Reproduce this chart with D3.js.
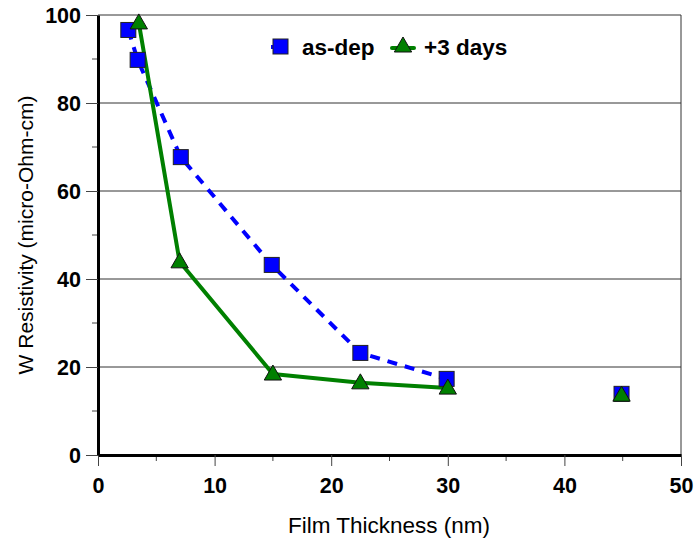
<!DOCTYPE html>
<html>
<head>
<meta charset="utf-8">
<script src="https://cdn.jsdelivr.net/npm/d3@7"></script>
<style>
  body { margin: 0; background: #fff; }
  text { font-family: Arial, "Liberation Sans", sans-serif; }
</style>
</head>
<body>
<div id="chart"></div>
<script>
// chart data
const thickness = [2.6, 3.4, 7.1, 14.9, 22.5, 29.9, 44.9];
const asDep = [96.6, 89.8, 67.7, 43.2, 23.2, 17.3, 13.9];
const plus3Thick = [3.5, 7.0, 15.0, 22.5, 30.0, 44.9];
const plus3Days = [98.2, 43.9, 18.4, 16.4, 15.2, 13.6];
const lineEnd = 30; // lines stop at 30 nm, 45 nm point stands alone
const xTicks = [0, 10, 20, 30, 40, 50];
const yTicks = [0, 20, 40, 60, 80, 100];

const width = 696;
const height = 538;
const margin = { top: 15, right: 15, bottom: 83, left: 98 };

const svg = d3.select("#chart")
  .append("svg")
  .attr("width", width)
  .attr("height", height);

const x = d3.scaleLinear().domain([0, 50]).range([margin.left, width - margin.right]);
const y = d3.scaleLinear().domain([0, 100]).range([height - margin.bottom, margin.top]);

// gridlines
svg.append("g")
  .selectAll("line")
  .data(yTicks.filter(d => d > 0))
  .enter().append("line")
  .attr("x1", x(0)).attr("x2", x(50))
  .attr("y1", d => y(d)).attr("y2", d => y(d))
  .attr("stroke", "#333")
  .attr("stroke-width", 1);

// right border
svg.append("line")
  .attr("x1", x(50)).attr("x2", x(50))
  .attr("y1", y(0)).attr("y2", y(100))
  .attr("stroke", "#333").attr("stroke-width", 1);

// minor ticks
svg.append("g").selectAll("line")
  .data(d3.range(5, 50, 10))
  .enter().append("line")
  .attr("x1", d => x(d)).attr("x2", d => x(d))
  .attr("y1", y(0)).attr("y2", y(0) + 6)
  .attr("stroke", "#444").attr("stroke-width", 1);
svg.append("g").selectAll("line")
  .data(d3.range(10, 100, 20))
  .enter().append("line")
  .attr("x1", x(0) - 6).attr("x2", x(0))
  .attr("y1", d => y(d)).attr("y2", d => y(d))
  .attr("stroke", "#444").attr("stroke-width", 1);

// axes
const xAxis = svg.append("g")
  .attr("transform", `translate(0,${y(0)})`)
  .call(d3.axisBottom(x).tickValues(xTicks).tickSize(11).tickPadding(12).tickSizeOuter(0));
const yAxis = svg.append("g")
  .attr("transform", `translate(${x(0)},0)`)
  .call(d3.axisLeft(y).tickValues(yTicks).tickSize(12).tickPadding(5).tickSizeOuter(0));

[xAxis, yAxis].forEach(a => {
  a.select(".domain").attr("stroke", "#000").attr("stroke-width", 3);
  a.selectAll(".tick line").attr("stroke", "#444").attr("stroke-width", 1);
  a.selectAll(".tick text")
    .attr("fill", "#000")
    .style("font-size", "21.5px")
    .style("font-weight", "bold")
    .style("font-family", "Arial, 'Liberation Sans', sans-serif");
});
yAxis.selectAll(".tick text").attr("dy", "0.36em");

// axis titles
svg.append("text")
  .attr("x", 389)
  .attr("y", 533)
  .attr("text-anchor", "middle")
  .style("font-size", "22.5px")
  .text("Film Thickness (nm)");
svg.append("text")
  .attr("transform", `translate(33,${y(50)}) rotate(-90)`)
  .attr("text-anchor", "middle")
  .style("font-size", "21px")
  .text("W Resistivity (micro-Ohm-cm)");

const blue = "#0000ff";
const green = "#008000";

const asDepData = thickness.map((t, i) => ({ x: t, y: asDep[i] }));
const plus3Data = plus3Thick.map((t, i) => ({ x: t, y: plus3Days[i] }));

const line = d3.line()
  .x(d => x(d.x))
  .y(d => y(d.y));

// lines
svg.append("path")
  .datum(asDepData.filter(d => d.x <= lineEnd))
  .attr("d", line)
  .attr("fill", "none")
  .attr("stroke", blue)
  .attr("stroke-width", 4)
  .attr("stroke-dasharray", "10,8");

svg.append("path")
  .datum(plus3Data.filter(d => d.x <= lineEnd))
  .attr("d", line)
  .attr("fill", "none")
  .attr("stroke", green)
  .attr("stroke-width", 4)
  .attr("stroke-linejoin", "round");

const sq = 15;
const triangle = d3.symbol().type(d3.symbolTriangle).size(130);

// markers
svg.append("g").selectAll("rect")
  .data(asDepData)
  .enter().append("rect")
  .attr("x", d => x(d.x) - sq / 2)
  .attr("y", d => y(d.y) - sq / 2)
  .attr("width", sq).attr("height", sq)
  .attr("fill", blue)
  .attr("stroke", "#222").attr("stroke-width", 1);

svg.append("g").selectAll("path")
  .data(plus3Data)
  .enter().append("path")
  .attr("d", triangle)
  .attr("transform", d => `translate(${x(d.x)},${y(d.y) + 1})`)
  .attr("fill", green)
  .attr("stroke", "#111").attr("stroke-width", 1);

// legend
const legend = svg.append("g");
legend.append("line")
  .attr("x1", 271).attr("x2", 280).attr("y1", 47).attr("y2", 47)
  .attr("stroke", blue).attr("stroke-width", 4);
legend.append("rect")
  .attr("x", 273).attr("y", 39).attr("width", sq).attr("height", sq)
  .attr("fill", blue).attr("stroke", "#222").attr("stroke-width", 1);
legend.append("text")
  .attr("x", 302).attr("y", 55)
  .style("font-size", "22.5px").style("font-weight", "bold")
  .text("as-dep");
legend.append("line")
  .attr("x1", 392).attr("x2", 414).attr("y1", 48).attr("y2", 48)
  .attr("stroke", green).attr("stroke-width", 4).attr("stroke-linecap", "round");
legend.append("path")
  .attr("d", triangle)
  .attr("transform", "translate(403,47)")
  .attr("fill", green).attr("stroke", "#111").attr("stroke-width", 1);
legend.append("text")
  .attr("x", 424).attr("y", 55)
  .style("font-size", "22.5px").style("font-weight", "bold")
  .text("+3 days");
</script>
</body>
</html>
